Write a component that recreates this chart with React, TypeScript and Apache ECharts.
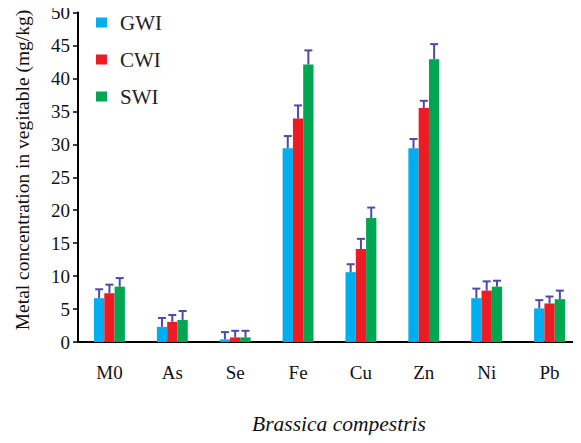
import React, { useEffect, useRef } from "react";
import * as echarts from "echarts";

const categories = ["M0", "As", "Se", "Fe", "Cu", "Zn", "Ni", "Pb"];
const seriesNames = ["GWI", "CWI", "SWI"];
const gwi = [6.65, 2.3, 0.4, 29.4, 10.6, 29.4, 6.65, 5.1];
const cwi = [7.4, 3.05, 0.7, 33.9, 14.1, 35.5, 7.8, 5.85];
const swi = [8.4, 3.35, 0.7, 42.1, 18.8, 42.9, 8.4, 6.5];
const gwiErr = [1.35, 1.35, 1.1, 1.85, 1.2, 1.4, 1.45, 1.25];
const cwiErr = [1.3, 1.05, 1.0, 2.0, 1.55, 1.1, 1.4, 1.05];
const swiErr = [1.3, 1.35, 1.0, 2.15, 1.6, 2.3, 0.9, 1.3];
const colors = ["#00AEEF", "#ED1C24", "#00A651"];
const yTicks = { min: 0, max: 50, interval: 5 };

const FONT = '"Liberation Serif", "Times New Roman", serif';
const BAR_W = 10.3;

export default function App() {
  const ref = useRef<HTMLDivElement>(null);
  useEffect(() => {
    if (!ref.current) return;
    const chart = echarts.init(ref.current, undefined, { renderer: "svg" });
    const values = [gwi, cwi, swi];
    const errs = [gwiErr, cwiErr, swiErr];

    const barSeries = values.map((v, i) => ({
      name: seriesNames[i],
      type: "bar",
      data: v,
      barWidth: BAR_W,
      barGap: "0%",
      itemStyle: { color: colors[i] },
      z: 2,
    }));

    const errSeries = values.map((v, i) => ({
      name: seriesNames[i] + "_err",
      type: "custom",
      data: v.map((m, k) => [k, m, m + errs[i][k]]),
      z: 5,
      silent: true,
      renderItem: (params: any, api: any) => {
        const k = api.value(0);
        const base = api.coord([k, api.value(1)]);
        const top = api.coord([k, api.value(2)]);
        const x = base[0] + (i - 1) * BAR_W;
        const cap = 4;
        const st = { stroke: "#4B4BA8", lineWidth: 2 };
        return {
          type: "group",
          children: [
            { type: "line", shape: { x1: x, y1: base[1], x2: x, y2: top[1] }, style: st },
            { type: "line", shape: { x1: x - cap, y1: top[1], x2: x + cap, y2: top[1] }, style: st },
          ],
        };
      },
    }));

    chart.setOption({
      animation: false,
      grid: { left: 78, top: 12.5, width: 507, height: 329.5, containLabel: false },
      legend: {
        data: seriesNames,
        orient: "vertical",
        left: 91,
        top: 7,
        icon: "rect",
        itemWidth: 11,
        itemHeight: 10,
        itemGap: 16,
        textStyle: { fontFamily: FONT, fontSize: 21, color: "#222", lineHeight: 21, padding: [0, 0, 0, 8] },
      },
      xAxis: {
        type: "category",
        data: categories,
        axisLine: { lineStyle: { color: "#000", width: 2 } },
        axisTick: { show: false },
        axisLabel: { fontFamily: FONT, fontSize: 19, color: "#111", margin: 21 },
      },
      yAxis: {
        type: "value",
        min: yTicks.min,
        max: yTicks.max,
        interval: yTicks.interval,
        axisLine: { show: true, lineStyle: { color: "#000", width: 2 } },
        axisTick: { show: true, inside: false, length: 5, lineStyle: { color: "#000", width: 1.5 } },
        splitLine: { show: false },
        axisLabel: { fontFamily: FONT, fontSize: 19, color: "#111", margin: 8, padding: [5, 0, 0, 0] },
      },
      graphic: [
        {
          type: "text",
          x: 22,
          y: 170,
          rotation: Math.PI / 2,
          style: {
            text: "Metal concentration in vegitable (mg/kg)",
            fontFamily: FONT,
            fontSize: 19.5,
            fill: "#111",
            align: "center",
            verticalAlign: "middle",
          },
        },
        {
          type: "text",
          x: 339,
          y: 424,
          style: {
            text: "Brassica compestris",
            fontFamily: FONT,
            fontSize: 21.5,
            fontStyle: "italic",
            fill: "#111",
            align: "center",
            verticalAlign: "middle",
          },
        },
      ],
      series: [...barSeries, ...errSeries],
    });
    return () => chart.dispose();
  }, []);
  return <div ref={ref} style={{ width: 581, height: 443, margin: -8 }} />;
}
